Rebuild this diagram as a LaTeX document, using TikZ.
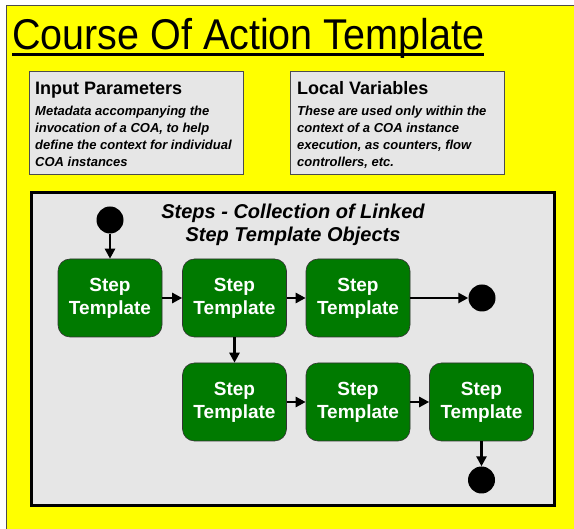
\documentclass[tikz,border=0pt]{standalone}
\usepackage{fontspec}
\setmainfont{Liberation Sans}
\usetikzlibrary{arrows.meta}
\definecolor{bgyellow}{RGB}{255,255,0}
\definecolor{panelgray}{RGB}{230,230,230}
\definecolor{stepgreen}{RGB}{0,122,0}
\begin{document}
\begin{tikzpicture}[x=1pt,y=-1pt,
  panel/.style={draw=black!70, line width=0.8pt, fill=panelgray, minimum width=214pt, minimum height=103pt, inner sep=0pt},
  heading/.style={anchor=base west, inner sep=0pt, font=\fontsize{18}{22}\selectfont\bfseries},
  bodytext/.style={anchor=north west, inner sep=0pt, align=left, font=\fontsize{13}{17}\selectfont\bfseries\itshape},
  stepbox/.style={draw=black!80, line width=0.6pt, fill=stepgreen, rounded corners=12pt, minimum width=104pt, minimum height=78pt, text=white, font=\fontsize{19}{23}\selectfont\bfseries, align=center, inner sep=0pt},
  dot/.style={circle, fill=black, minimum size=27pt, inner sep=0pt},
  link/.style={line width=2.5pt, -{Triangle[length=10pt,width=10pt]}},
  ]
\useasboundingbox (0,0) rectangle (574,529);
\fill[bgyellow] (6,6) rectangle (574,529);
\draw[black!70, line width=1pt] (6,529) -- (6,6) -- (574,6);

% title
\node[anchor=base west, inner sep=0pt, font=\fontsize{39.5}{44}\selectfont] (title) at (12,49.5) {\scalebox{1}[1.09]{Course Of Action Template}};
\draw[line width=2.5pt] ([yshift=-5pt]title.base west) -- ([yshift=-5pt]title.base east);

% panels
\node[panel] (inp) at (136,122.5) {};
\node[heading] (inphead) at (35,95) {Input Parameters};
\node[bodytext] (inpbody) at (35,105.7) {Metadata accompanying the\\invocation of a COA, to help\\define the context for individual\\COA instances};

\node[panel] (loc) at (397.5,122.5) {};
\node[heading] (lochead) at (297,95) {Local Variables};
\node[bodytext] (locbody) at (297,105.7) {These are used only within the\\context of a COA instance\\execution, as counters, flow\\controllers, etc.};

% steps area
\node[draw=black, line width=3pt, fill=panelgray, minimum width=523pt, minimum height=313pt, inner sep=0pt] (steps) at (292.5,349.5) {};
\node[inner sep=0pt, align=center, font=\fontsize{20}{23}\selectfont\bfseries\itshape] (stepstitle) at (293,225) {Steps - Collection of Linked\\Step Template Objects};

\node[dot] (start) at (110,220) {};
\node[stepbox] (s1) at (110,298) {Step\\Template};
\node[stepbox] (s2) at (234.5,298) {Step\\Template};
\node[stepbox] (s3) at (358,298) {Step\\Template};
\node[dot] (end1) at (482,298) {};
\node[stepbox] (s4) at (234.5,402) {Step\\Template};
\node[stepbox] (s5) at (358,402) {Step\\Template};
\node[stepbox] (s6) at (481.5,402) {Step\\Template};
\node[dot] (end2) at (481.5,480) {};

\draw[link] (start) -- (s1);
\draw[link] (s1) -- (s2);
\draw[link] (s2) -- (s3);
\draw[link] (s3) -- (end1);
\draw[link] (s2) -- (s4);
\draw[link] (s4) -- (s5);
\draw[link] (s5) -- (s6);
\draw[link] (s6) -- (end2);
\end{tikzpicture}
\end{document}
